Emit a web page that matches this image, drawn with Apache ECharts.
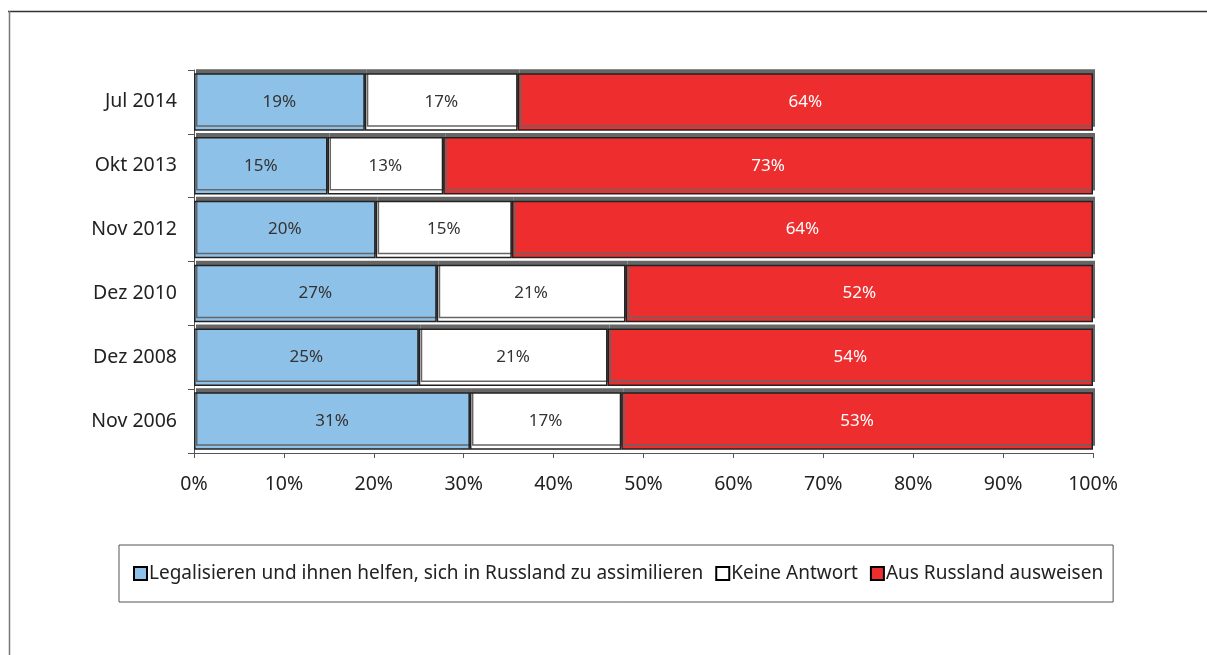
<!DOCTYPE html>
<html><head><meta charset="utf-8">
<script src="https://cdn.jsdelivr.net/npm/echarts@6/dist/echarts.min.js"></script>
<style>html,body{margin:0;padding:0;background:#fff}#c{width:1207px;height:655px}</style>
</head><body><div id="c"></div>
<script>
const categories = ['Nov 2006','Dez 2008','Dez 2010','Nov 2012','Okt 2013','Jul 2014'];
const legalisieren = [31,25,27,20,15,19];
const keineAntwort = [17,21,21,15,13,17];
const ausweisen = [53,54,52,64,73,64];
const seriesNames = ['Legalisieren und ihnen helfen, sich in Russland zu assimilieren','Keine Antwort','Aus Russland ausweisen'];
const xTicks = [0,10,20,30,40,50,60,70,80,90,100];

const raw = [legalisieren, keineAntwort, ausweisen];
const totals = categories.map((_, i) => raw.reduce((s, a) => s + a[i], 0));
const colors = ['#8EC1E8','#FFFFFF','#EE2E2E'];
const labelColors = ['#333','#333','#fff'];
const FONT = 'Noto Sans';

const chart = echarts.init(document.getElementById('c'));
chart.setOption({
  animation: false,
  textStyle: {fontFamily: FONT},
  grid: {left: 194, right: 114, top: 70, bottom: 202},
  xAxis: {
    type: 'value', min: 0, max: 100, interval: 10,
    axisLine: {show: true, lineStyle: {color: '#555', width: 1}},
    axisTick: {show: true, length: 5, lineStyle: {color: '#555'}},
    splitLine: {show: false},
    axisLabel: {color: '#222', fontSize: 19.5, margin: 21, fontFamily: FONT,
      formatter: v => xTicks.includes(v) ? v + '%' : ''}
  },
  yAxis: {
    type: 'category', data: categories,
    axisLine: {show: true, lineStyle: {color: '#555'}},
    axisTick: {show: true, length: 6, lineStyle: {color: '#555'}},
    axisLabel: {color: '#222', fontSize: 19.5, margin: 17, fontFamily: FONT}
  },
  legend: {
    bottom: 53, left: 119,
    width: 1000,
    padding: [19, 10, 19, 14],
    borderColor: '#555', borderWidth: 1,
    itemWidth: 13, itemHeight: 13, itemGap: 12,
    icon: 'rect',
    textStyle: {color: '#222', fontSize: 19, fontFamily: FONT, padding: [0,0,0,-3]},
    data: seriesNames.map((n, i) => ({name: n, itemStyle: {color: colors[i], borderColor: '#000', borderWidth: 2}}))
  },
  graphic: [
    {type: 'line', shape: {x1: 8, y1: 11.5, x2: 1207, y2: 11.5}, style: {stroke: '#333', lineWidth: 1.5}},
    {type: 'line', shape: {x1: 9.5, y1: 11, x2: 9.5, y2: 655}, style: {stroke: '#777', lineWidth: 1.5}}
  ],
  series: raw.map((arr, k) => ({
    name: seriesNames[k],
    type: 'bar', stack: 'all',
    barCategoryGap: '10%',
    data: arr.map((v, i) => ({value: v / totals[i] * 100, raw: v})),
    itemStyle: {color: colors[k], borderColor: '#222', borderWidth: 1.5,
      shadowColor: '#666', shadowOffsetX: 2, shadowOffsetY: -4, shadowBlur: 0},
    label: {show: true, position: 'inside', color: labelColors[k], fontSize: 17, fontFamily: FONT,
      formatter: p => p.data.raw + '%'}
  }))
});
</script></body></html>
